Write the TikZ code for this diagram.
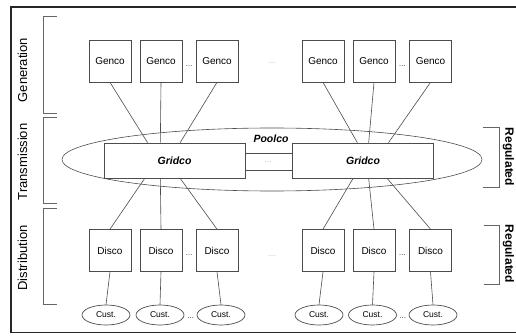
\documentclass[tikz,border=0pt]{standalone}
\usepackage{fontspec}
\setmainfont{Liberation Sans}
\usetikzlibrary{positioning, shapes.geometric, calc}

\begin{document}
\begin{tikzpicture}[x=1pt, y=-1pt,
    cobox/.style={draw=black!70, fill=white, line width=0.7pt, minimum width=42pt, minimum height=42pt, inner sep=0pt, font=\fontsize{10}{12}\selectfont},
    gridbox/.style={draw=black!70, fill=white, line width=0.7pt, minimum width=141pt, minimum height=35pt, inner sep=0pt, font=\fontsize{10.5}{12}\selectfont\bfseries\itshape},
    custnode/.style={ellipse, draw=black!70, fill=white, line width=0.7pt, minimum width=48pt, minimum height=20pt, inner sep=0pt, font=\fontsize{8.5}{10}\selectfont},
    link/.style={draw=black!70, line width=0.6pt},
    bracket/.style={draw=black!60, line width=0.6pt},
    sidelabel/.style={rotate=90, font=\fontsize{13}{15}\selectfont},
    reglabel/.style={rotate=-90, inner sep=0pt, font=\fontsize{12}{14}\selectfont\bfseries},
    dotsep/.style={inner sep=0pt, font=\fontsize{7}{8}\selectfont}]
    \useasboundingbox (0,0) rectangle (516,336);

    % Frame
    \draw[line width=1.5pt, black!85] (530,7) -- (11,7) -- (11,332.5) -- (530,332.5);

    % Side labels and brackets
    \node[sidelabel] (lgen) at (22.5,70) {Generation};
    \node[sidelabel] (ltra) at (22.5,162) {Transmission};
    \node[sidelabel] (ldis) at (22.5,258) {Distribution};
    \draw[bracket] (57,16) -- (43,16) -- (43,113) -- (57,113);
    \draw[bracket] (57,117) -- (43,117) -- (43,203) -- (57,203);
    \draw[bracket] (57,208) -- (43,208) -- (43,304) -- (57,304);

    \draw[bracket] (483,127) -- (499,127) -- (499,187) -- (483,187);
    \draw[bracket] (484,225) -- (499,225) -- (499,284) -- (484,284);
    \node[reglabel] (rtra) at (508.5,157) {Regulated};
    \node[reglabel] (rdis) at (508.5,254) {Regulated};

    % Poolco
    \draw[link] (272,159.5) ellipse [x radius=210pt, y radius=31.5pt];
    \node[font=\fontsize{10.5}{12}\selectfont\bfseries\itshape] (pool) at (271,139) {Poolco};

    % Gridcos and the band between them
    \node[gridbox] (gridL) at (174.5,160.5) {Gridco};
    \node[gridbox] (gridR) at (363,160.5) {Gridco};
    \draw[link] ($(gridL.north east)!0.31!(gridL.south east)$) -- ($(gridR.north west)!0.31!(gridR.south west)$);
    \draw[link] ($(gridL.north east)!0.77!(gridL.south east)$) -- ($(gridR.north west)!0.77!(gridR.south west)$);
    \node[dotsep, black!40] (midp) at (268,162) {\dots};

    % Gencos, Discos and customers
    \foreach \n/\x/\c in {1/110/106, 2/161/160, 3/217/221, 4/323/319, 5/374/372.5, 6/430.5/433} {
        \node[cobox] (g\n) at (\x,61) {Genco};
        \node[cobox] (d\n) at (\x,250.5) {Disco};
        \node[custnode] (c\n) at (\c,315) {Cust.};
        \draw[link] (d\n.south) -- (c\n.north);
    }

    % Dots between boxes
    \foreach \a/\b in {2/3, 5/6} {
        \node[dotsep, yshift=-5pt] (dg\a) at ($(g\a.east)!0.5!(g\b.west)$) {\dots};
        \node[dotsep, yshift=-5pt] (dd\a) at ($(d\a.east)!0.5!(d\b.west)$) {\dots};
        \node[dotsep, yshift=-3pt] (dc\a) at ($(c\a.east)!0.5!(c\b.west)$) {\dots};
    }
    \node[dotsep, black!40] (midg) at (272,63) {\dots};
    \node[dotsep, black!40] (midd) at (272,256) {\dots};

    % Gencos to Gridcos
    \foreach \n/\f in {1/0.31, 2/0.40, 3/0.54}
        \draw[link] (g\n.south) -- ($(gridL.north west)!\f!(gridL.north east)$);
    \foreach \n/\f in {4/0.46, 5/0.54, 6/0.68}
        \draw[link] (g\n.south) -- ($(gridR.north west)!\f!(gridR.north east)$);

    % Gridcos to Discos
    \foreach \n/\f in {1/0.29, 2/0.40, 3/0.54}
        \draw[link] ($(gridL.south west)!\f!(gridL.south east)$) -- (d\n.north);
    \foreach \n/\f in {4/0.43, 5/0.54, 6/0.67}
        \draw[link] ($(gridR.south west)!\f!(gridR.south east)$) -- (d\n.north);
\end{tikzpicture}
\end{document}
